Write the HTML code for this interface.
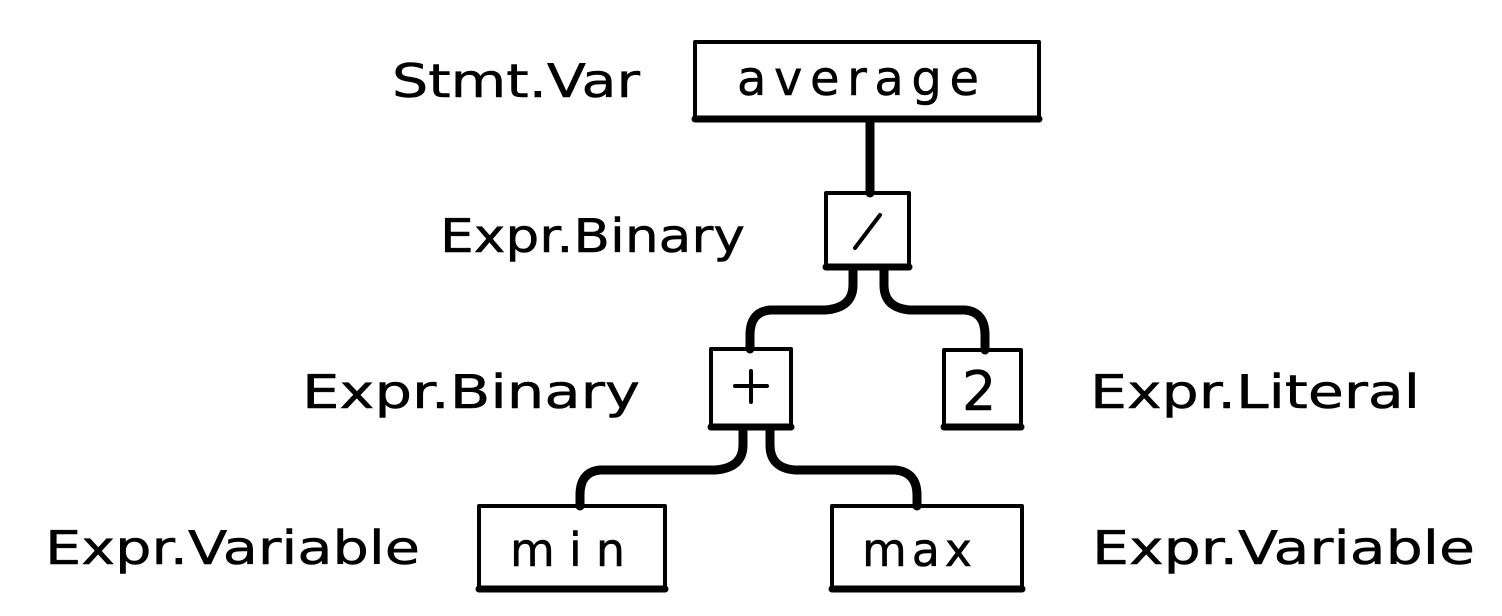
<!DOCTYPE html>
<html><head><meta charset="utf-8"><style>html,body{margin:0;padding:0;background:#fff}svg{display:block}</style></head>
<body>
<svg width="1502" height="616" viewBox="0 0 1502 616" xmlns="http://www.w3.org/2000/svg">
<g fill="none" stroke="#000" stroke-linecap="round" stroke-linejoin="round">
  <rect x="695" y="42" width="344" height="76" stroke-width="4"/>
  <line x1="695" y1="119" x2="1039" y2="119" stroke-width="7"/>
  <rect x="826" y="193" width="83" height="73" stroke-width="4"/>
  <line x1="826" y1="267" x2="909" y2="267" stroke-width="7"/>
  <rect x="711" y="349" width="80" height="77" stroke-width="4"/>
  <line x1="711" y1="427" x2="791" y2="427" stroke-width="7"/>
  <rect x="944" y="350" width="77" height="76" stroke-width="4"/>
  <line x1="944" y1="427" x2="1021" y2="427" stroke-width="7"/>
  <rect x="479" y="506" width="186" height="82" stroke-width="4"/>
  <line x1="479" y1="589" x2="665" y2="589" stroke-width="7"/>
  <rect x="832" y="506" width="190" height="82" stroke-width="4"/>
  <line x1="832" y1="589" x2="1022" y2="589" stroke-width="7"/>
  <path d="M870 120 V193" stroke-width="9"/>
  <path d="M853 268 V285 Q853 308 825 310 H770 Q750 312 750 335 V349" stroke-width="9"/>
  <path d="M884 268 V285 Q884 308 910 310 H965 Q985 312 985 335 V350" stroke-width="9"/>
  <path d="M743 428 V445 Q743 468 715 470 H600 Q580 472 580 495 V506" stroke-width="9"/>
  <path d="M770 428 V445 Q770 468 795 470 H895 Q917 472 917 495 V506" stroke-width="9"/>
  <line x1="855" y1="248" x2="880" y2="215" stroke-width="4"/>
  <line x1="751" y1="371" x2="751" y2="402" stroke-width="4"/>
  <line x1="735" y1="386" x2="767" y2="386" stroke-width="4"/>
</g>
<g font-family="DejaVu Sans, sans-serif" font-size="46" fill="#000" stroke="#000" stroke-width="0.5">
  <text x="737" y="95" textLength="242" lengthAdjust="spacing" font-size="48">average</text>
  <text x="962" y="410" font-size="54">2</text>
  <text x="510" y="566" textLength="115" lengthAdjust="spacing" font-size="46">min</text>
  <text x="862" y="566" textLength="110" lengthAdjust="spacing" font-size="46">max</text>
  <text x="392" y="97" textLength="248" lengthAdjust="spacingAndGlyphs">Stmt.Var</text>
  <text x="440" y="252" textLength="305" lengthAdjust="spacingAndGlyphs">Expr.Binary</text>
  <text x="302" y="408" textLength="338" lengthAdjust="spacingAndGlyphs">Expr.Binary</text>
  <text x="1090" y="408" textLength="330" lengthAdjust="spacingAndGlyphs">Expr.Literal</text>
  <text x="45" y="564" textLength="375" lengthAdjust="spacingAndGlyphs">Expr.Variable</text>
  <text x="1092" y="564" textLength="383" lengthAdjust="spacingAndGlyphs">Expr.Variable</text>
</g>
</svg>
</body></html>
